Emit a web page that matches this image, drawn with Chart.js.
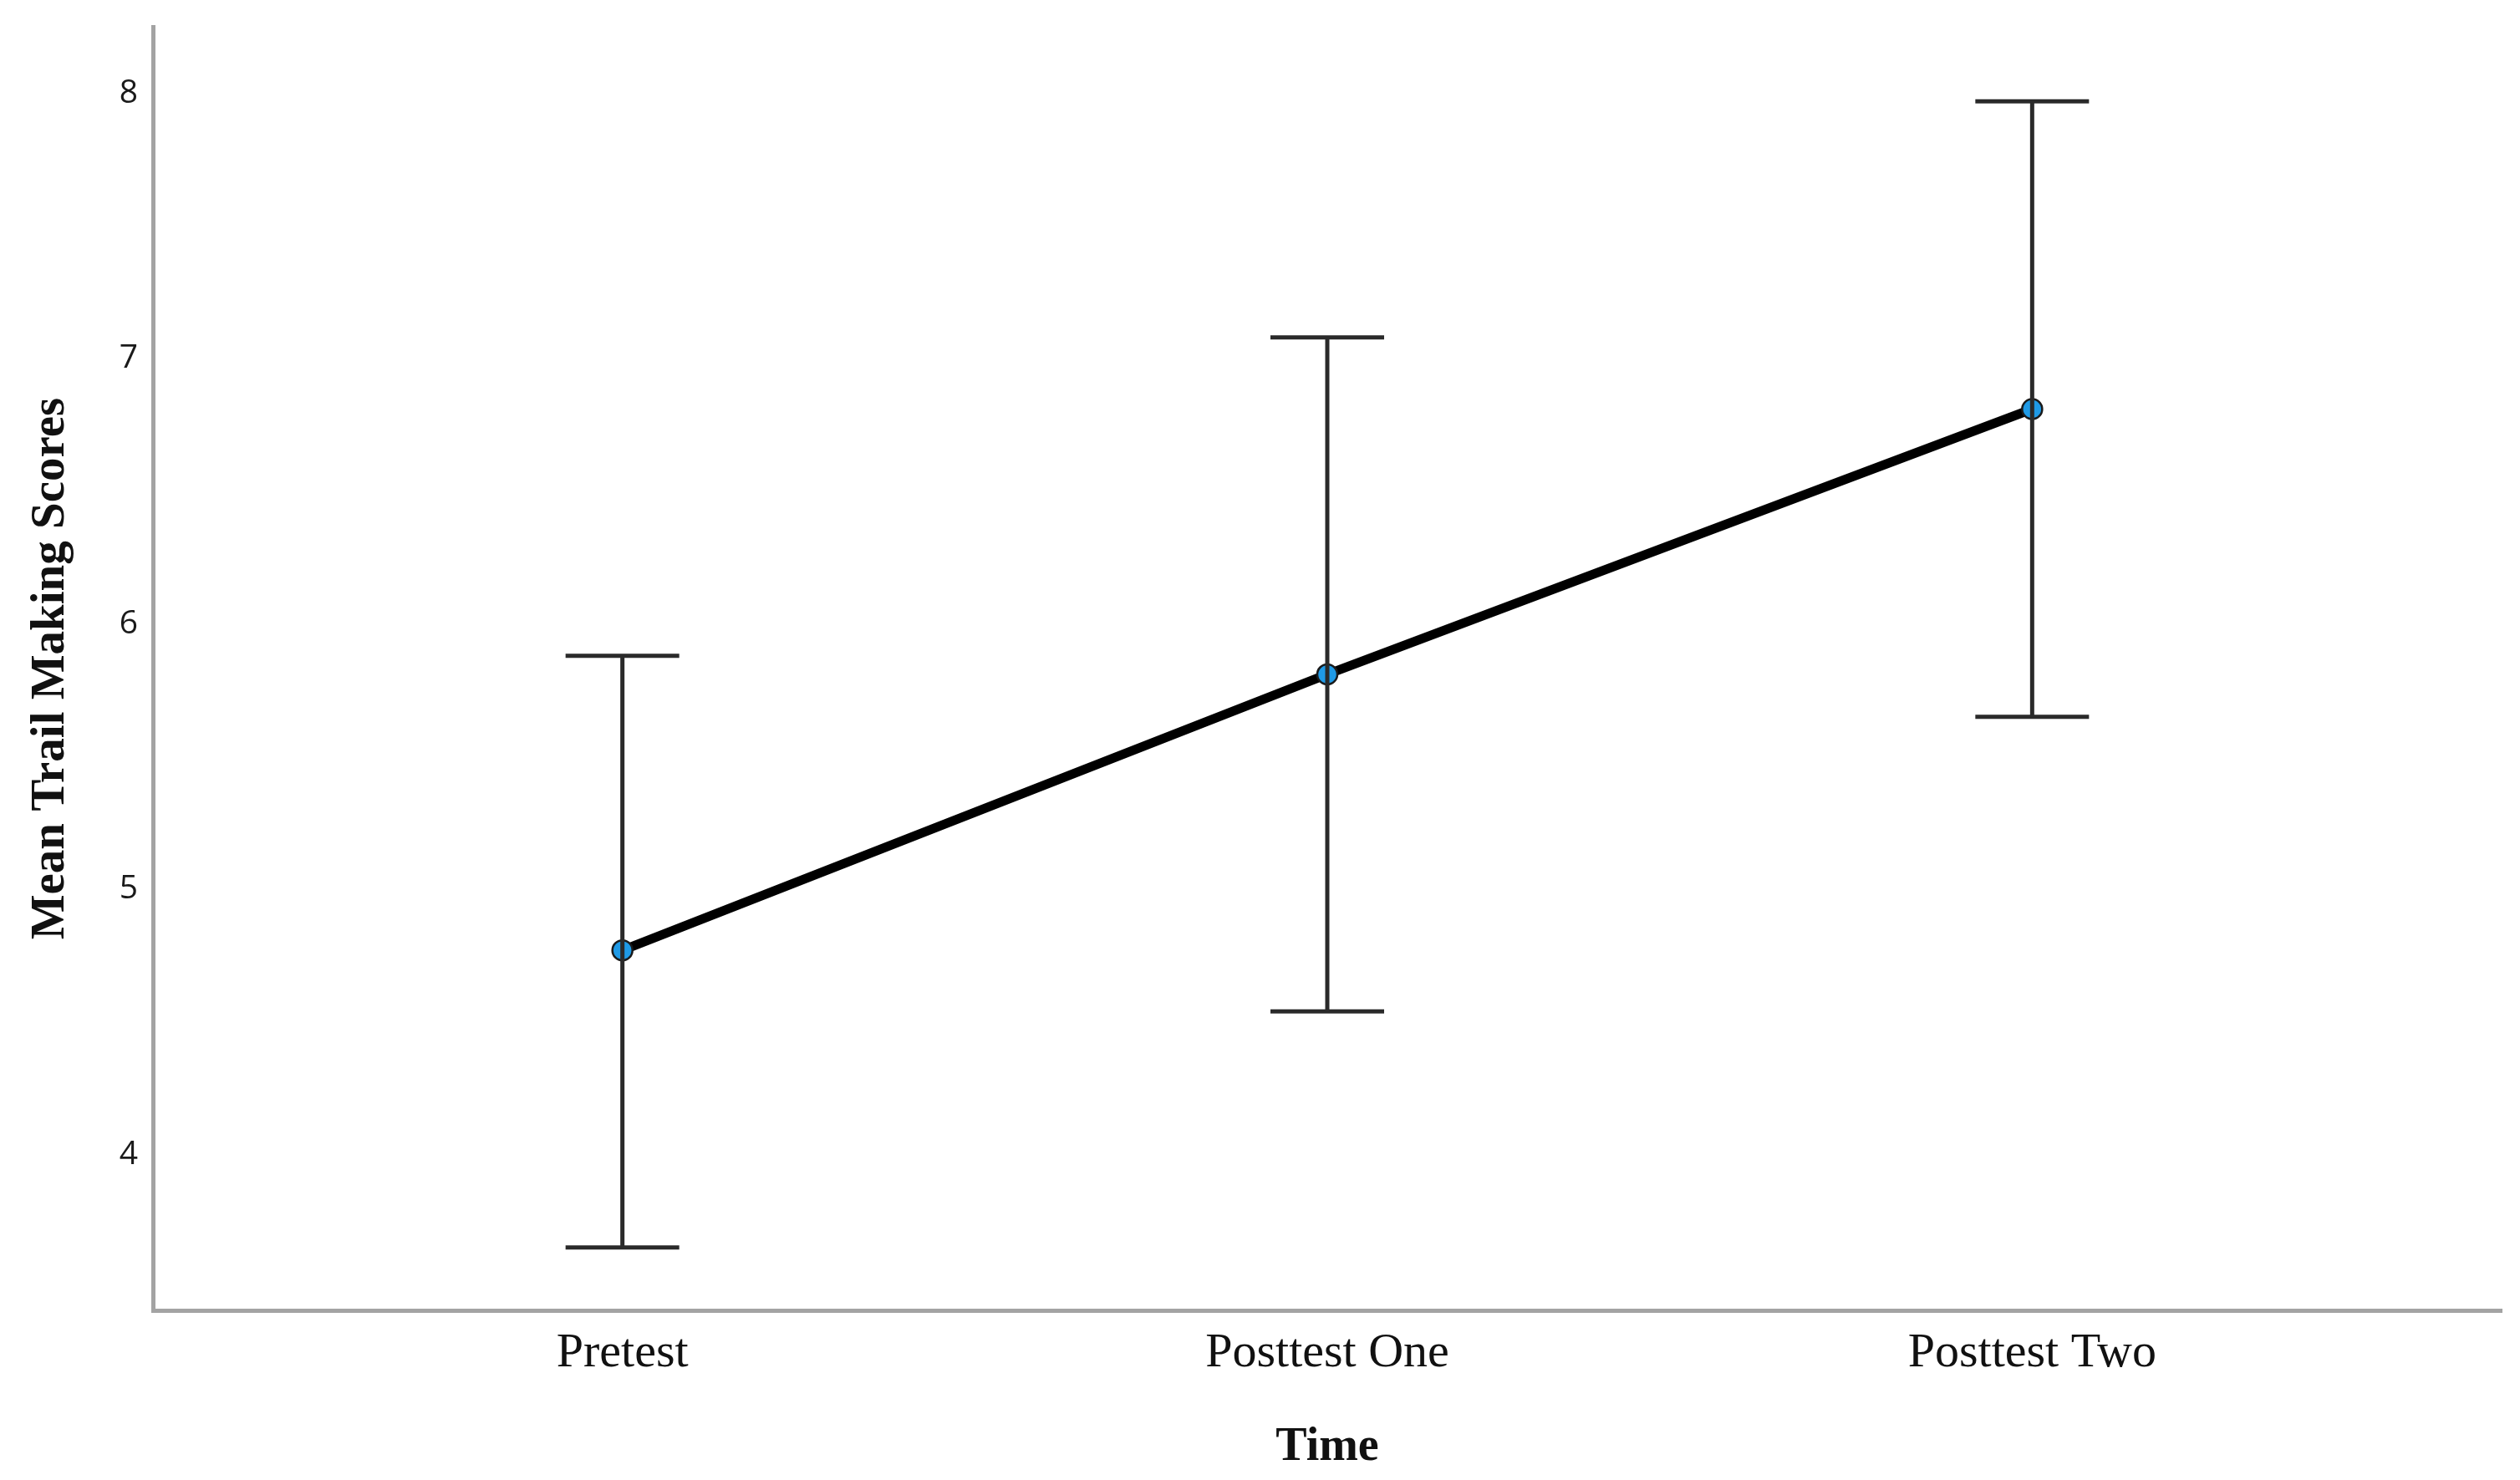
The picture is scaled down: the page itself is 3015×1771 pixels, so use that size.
<!DOCTYPE html>
<html>
<head>
<meta charset="utf-8">
<script src="https://cdn.jsdelivr.net/npm/chart.js@4"></script>
<style>
  html, body { margin: 0; padding: 0; background: #fff; }
  canvas { display: block; }
</style>
</head>
<body>
<canvas id="chart" width="3015" height="1771"></canvas>
<script>
// time points along the x-axis
const timepoints = ['Pretest', 'Posttest One', 'Posttest Two'];
// mean scores and the ends of the error bars
const meanScores = [4.77, 5.81, 6.81];
const ciLower = [3.65, 4.54, 5.65];
const ciUpper = [5.88, 7.08, 7.97];
const yTicks = [4, 5, 6, 7, 8];

// draws the error bars on top of the line
const errorBars = {
  id: 'errorBars',
  afterDatasetsDraw(chart) {
    const ctx = chart.ctx;
    const x = chart.scales.x;
    const y = chart.scales.y;
    const cap = 68;
    ctx.save();
    ctx.strokeStyle = '#2a2a2a';
    ctx.lineWidth = 5;
    ctx.lineCap = 'butt';
    timepoints.forEach((t, i) => {
      const px = x.getPixelForValue(i);
      const top = y.getPixelForValue(ciUpper[i]);
      const bot = y.getPixelForValue(ciLower[i]);
      ctx.beginPath();
      ctx.moveTo(px, top);
      ctx.lineTo(px, bot);
      ctx.moveTo(px - cap, top);
      ctx.lineTo(px + cap, top);
      ctx.moveTo(px - cap, bot);
      ctx.lineTo(px + cap, bot);
      ctx.stroke();
    });
    ctx.restore();
  }
};

new Chart(document.getElementById('chart'), {
  type: 'line',
  data: {
    datasets: [
      {
        data: meanScores.map((v, i) => ({ x: i, y: v })),
        borderColor: '#000',
        borderWidth: 11,
        tension: 0,
        pointRadius: 12,
        pointBackgroundColor: '#1f9ae6',
        pointBorderColor: '#1a1a1a',
        pointBorderWidth: 2.5
      }
    ]
  },
  options: {
    responsive: false,
    devicePixelRatio: 1,
    animation: false,
    layout: { padding: { top: 32, right: 22, left: 0, bottom: 0 } },
    plugins: {
      legend: { display: false },
      tooltip: { enabled: false }
    },
    scales: {
      x: {
        type: 'linear',
        min: -0.666,
        max: 2.666,
        afterFit: (s) => { s.height = 203; s.paddingLeft = 0; s.paddingRight = 0; },
        grid: { display: false, drawTicks: false },
        border: { display: true, color: '#a3a3a3', width: 5 },
        ticks: {
          stepSize: 1,
          includeBounds: false,
          padding: 17,
          color: '#111',
          font: { family: 'Liberation Serif', size: 58 },
          callback: (v) => timepoints[v] ?? ''
        },
        title: {
          display: true,
          text: 'Time',
          color: '#111',
          font: { family: 'Liberation Serif', size: 56, weight: 'bold' },
          padding: { top: 0, bottom: 5 }
        }
      },
      y: {
        min: 3.413,
        max: 8.251,
        afterFit: (s) => { s.width = 183; s.paddingTop = 0; s.paddingBottom = 0; },
        afterBuildTicks: (s) => { s.ticks = yTicks.map(v => ({ value: v })); },
        grid: { display: false, drawTicks: false },
        border: { display: true, color: '#a3a3a3', width: 5 },
        ticks: {
          padding: 18,
          color: '#1a1a1a',
          font: { family: 'Open Sans', size: 39 }
        },
        title: {
          display: true,
          text: 'Mean Trail Making Scores',
          color: '#111',
          font: { family: 'Liberation Serif', size: 57, weight: 'bold' },
          padding: { top: 27, bottom: 0 }
        }
      }
    }
  },
  plugins: [errorBars]
});
</script>
</body>
</html>
